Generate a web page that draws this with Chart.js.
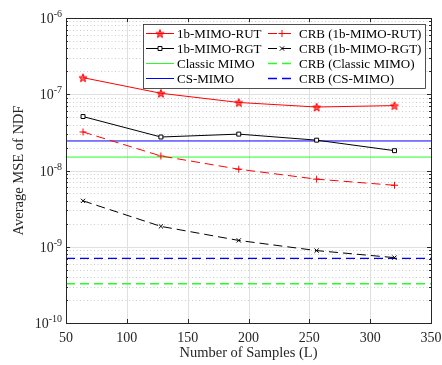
<!DOCTYPE html>
<html>
<head>
<meta charset="utf-8">
<script src="https://cdn.jsdelivr.net/npm/chart.js@4/dist/chart.umd.min.js"></script>
<style>
  html, body { margin: 0; padding: 0; background: #fff; }
  #wrap { width: 442px; height: 365px; position: relative; }
</style>
</head>
<body>
<div id="wrap"><canvas id="c"></canvas></div>
<script>
// --- data ---
const samples = [64, 128, 192, 256, 320];
const rut = [1.65e-7, 1.03e-7, 7.8e-8, 6.8e-8, 7.1e-8];
const rgt = [5.1e-8, 2.75e-8, 3.0e-8, 2.5e-8, 1.82e-8];
const crbRut = [3.2e-8, 1.55e-8, 1.04e-8, 7.7e-9, 6.4e-9];
const crbRgt = [4.0e-9, 1.85e-9, 1.21e-9, 8.9e-10, 7.2e-10];
const flatX = [50, 350];
const classicMimo = [1.5e-8, 1.5e-8];
const csMimo = [2.44e-8, 2.44e-8];
const crbClassic = [3.27e-10, 3.27e-10];
const crbCs = [7.05e-10, 7.05e-10];
const xTicks = [50, 100, 150, 200, 250, 300, 350];
const yDecades = [-10, -9, -8, -7, -6];

const FONT = '"Liberation Serif", "Times New Roman", serif';
const RED = '#ff0000', GREEN = '#22ff22', BLUE = '#0000ff', BLACK = '#000000';
const DASH = [9, 5];

const pts = (xs, ys) => xs.map((x, i) => ({ x, y: ys[i] }));

// MATLAB style pentagram marker
function makeStar(color, r) {
    const s = Math.ceil(r * 2 + 3);
    const c = document.createElement('canvas');
    c.width = c.height = s;
    const g = c.getContext('2d');
    g.beginPath();
    for (let i = 0; i < 10; i++) {
        const a = -Math.PI / 2 + i * Math.PI / 5;
        const rr = i % 2 ? r * 0.42 : r;
        g.lineTo(s / 2 + rr * Math.cos(a), s / 2 + 0.5 + rr * Math.sin(a));
    }
    g.closePath();
    g.fillStyle = 'rgba(255,0,0,0.6)';
    g.fill();
    g.strokeStyle = color; g.lineWidth = 1; g.stroke();
    return c;
}
const starImg = makeStar(RED, 4.3);

const mk = (label, xs, ys, color, opts = {}) => ({
    label, data: pts(xs, ys),
    borderColor: color, backgroundColor: color,
    borderWidth: 1, pointRadius: 0, tension: 0,
    pointBorderWidth: 1,
    ...opts,
});

const datasets = [
    mk('1b-MIMO-RUT', samples, rut, RED, { pointStyle: starImg, pointRadius: 4 }),
    mk('CRB (1b-MIMO-RUT)', samples, crbRut, RED, { borderDash: DASH, pointStyle: 'cross', pointRadius: 3.5 }),
    mk('1b-MIMO-RGT', samples, rgt, BLACK, { pointStyle: 'rect', pointRadius: 2.8, pointBackgroundColor: '#fff' }),
    mk('CRB (1b-MIMO-RGT)', samples, crbRgt, BLACK, { borderDash: DASH, pointStyle: 'crossRot', pointRadius: 3 }),
    mk('Classic MIMO', flatX, classicMimo, GREEN),
    mk('CRB (Classic MIMO)', flatX, crbClassic, GREEN, { borderDash: DASH, borderWidth: 1.3 }),
    mk('CS-MIMO', flatX, csMimo, BLUE),
    mk('CRB (CS-MIMO)', flatX, crbCs, BLUE, { borderDash: DASH, borderWidth: 1.3 }),
];

// grid, box, inward ticks, superscript y labels, legend
const matlabAxes = {
    id: 'matlabAxes',
    beforeDatasetsDraw(chart) {
        const { ctx, chartArea: a, scales: { x, y } } = chart;
        ctx.save();
        // minor y grid (dotted)
        ctx.strokeStyle = '#bdbdbd'; ctx.lineWidth = 0.8; ctx.setLineDash([1, 2.5]);
        for (let e = -10; e < -6; e++) {
            for (let m = 2; m <= 9; m++) {
                const py = Math.round(y.getPixelForValue(m * Math.pow(10, e))) + 0.5;
                ctx.beginPath(); ctx.moveTo(a.left, py); ctx.lineTo(a.right, py); ctx.stroke();
            }
        }
        ctx.setLineDash([]);
        ctx.strokeStyle = '#e0e0e0'; ctx.lineWidth = 1;
        yDecades.slice(1, -1).forEach(e => {
            const py = Math.round(y.getPixelForValue(Math.pow(10, e))) + 0.5;
            ctx.beginPath(); ctx.moveTo(a.left, py); ctx.lineTo(a.right, py); ctx.stroke();
        });
        xTicks.slice(1, -1).forEach(v => {
            const px = Math.round(x.getPixelForValue(v)) + 0.5;
            ctx.beginPath(); ctx.moveTo(px, a.top); ctx.lineTo(px, a.bottom); ctx.stroke();
        });
        ctx.restore();
    },
    afterDatasetsDraw(chart) {
        const { ctx, chartArea: a, scales: { x, y } } = chart;
        ctx.save();
        ctx.strokeStyle = '#262626'; ctx.lineWidth = 1;
        // inward ticks
        ctx.beginPath();
        xTicks.forEach(v => {
            const px = Math.round(x.getPixelForValue(v)) + 0.5;
            ctx.moveTo(px, a.bottom); ctx.lineTo(px, a.bottom - 4);
            ctx.moveTo(px, a.top); ctx.lineTo(px, a.top + 4);
        });
        for (let e = -10; e <= -6; e++) {
            for (let m = 1; m <= 9; m++) {
                if (e === -6 && m > 1) break;
                const py = Math.round(y.getPixelForValue(m * Math.pow(10, e))) + 0.5;
                const len = m === 1 ? 4 : 2;
                ctx.moveTo(a.left, py); ctx.lineTo(a.left + len, py);
                ctx.moveTo(a.right, py); ctx.lineTo(a.right - len, py);
            }
        }
        ctx.stroke();
        ctx.strokeRect(Math.round(a.left) + 0.5, Math.round(a.top) + 0.5,
            Math.round(a.right - a.left), Math.round(a.bottom - a.top));

        // y tick labels 10^e
        ctx.fillStyle = '#262626'; ctx.textBaseline = 'alphabetic';
        yDecades.forEach(e => {
            const py = y.getPixelForValue(Math.pow(10, e));
            const exp = String(e);
            ctx.font = '10px ' + FONT;
            const ew = ctx.measureText(exp).width;
            ctx.textAlign = 'left';
            ctx.fillText(exp, a.left - 4 - ew, py - 1);
            ctx.font = '14px ' + FONT;
            ctx.textAlign = 'right';
            ctx.fillText('10', a.left - 4 - ew, py + 5);
        });

        // legend, two columns
        const lx = 143, ly = 24, lw = 282, lh = 64;
        ctx.fillStyle = '#fff';
        ctx.fillRect(lx, ly, lw, lh);
        ctx.strokeStyle = '#262626'; ctx.lineWidth = 0.8;
        ctx.strokeRect(lx + 0.5, ly + 0.5, lw, lh);
        ctx.font = '13px ' + FONT; ctx.textAlign = 'left'; ctx.textBaseline = 'middle';
        chart.data.datasets.forEach((ds, i) => {
            const col = i % 2, row = Math.floor(i / 2);
            const x0 = col ? 268 : 146, x1 = x0 + 28, cy = ly + 9.5 + row * 15;
            ctx.save();
            ctx.strokeStyle = ds.borderColor; ctx.lineWidth = ds.borderWidth;
            ctx.setLineDash(ds.borderDash || []);
            ctx.beginPath(); ctx.moveTo(x0, cy); ctx.lineTo(x1, cy); ctx.stroke();
            ctx.setLineDash([]);
            if (ds.pointRadius > 0) {
                ctx.lineWidth = 1;
                ctx.fillStyle = ds.pointBackgroundColor || ds.borderColor;
                Chart.helpers.drawPoint(ctx, {
                    pointStyle: ds.pointStyle, radius: ds.pointRadius,
                    borderWidth: 1, rotation: 0
                }, (x0 + x1) / 2, cy);
            }
            ctx.restore();
            ctx.fillStyle = '#000';
            ctx.fillText(ds.label, x1 + 3, cy + 1);
        });
        ctx.restore();
    }
};

Chart.defaults.font.family = FONT;

new Chart(document.getElementById('c'), {
    type: 'line',
    data: { datasets },
    options: {
        responsive: true,
        maintainAspectRatio: false,
        animation: false,
        layout: { padding: { top: 18, right: 11, left: 0, bottom: 0 } },
        plugins: { legend: { display: false }, tooltip: { enabled: false } },
        scales: {
            x: {
                type: 'linear', min: 50, max: 350,
                afterBuildTicks: (s) => { s.ticks = xTicks.map(v => ({ value: v })); },
                afterFit: (s) => { s.height = 42; },
                ticks: { color: '#262626', font: { size: 14, family: FONT }, padding: -1, maxRotation: 0 },
                grid: { display: false },
                border: { display: false },
                title: { display: true, text: 'Number of Samples (L)', color: '#262626',
                    font: { size: 14.5, family: FONT }, padding: { top: 0, bottom: 3 } }
            },
            y: {
                type: 'logarithmic', min: 1e-10, max: 1e-6,
                afterFit: (s) => { s.width = 66; },
                ticks: { display: false },
                grid: { display: false },
                border: { display: false },
                title: { display: true, text: 'Average MSE of NDF', color: '#262626',
                    font: { size: 14.5, family: FONT }, padding: { top: 10, bottom: 0 } }
            }
        }
    },
    plugins: [matlabAxes]
});
</script>
</body>
</html>
